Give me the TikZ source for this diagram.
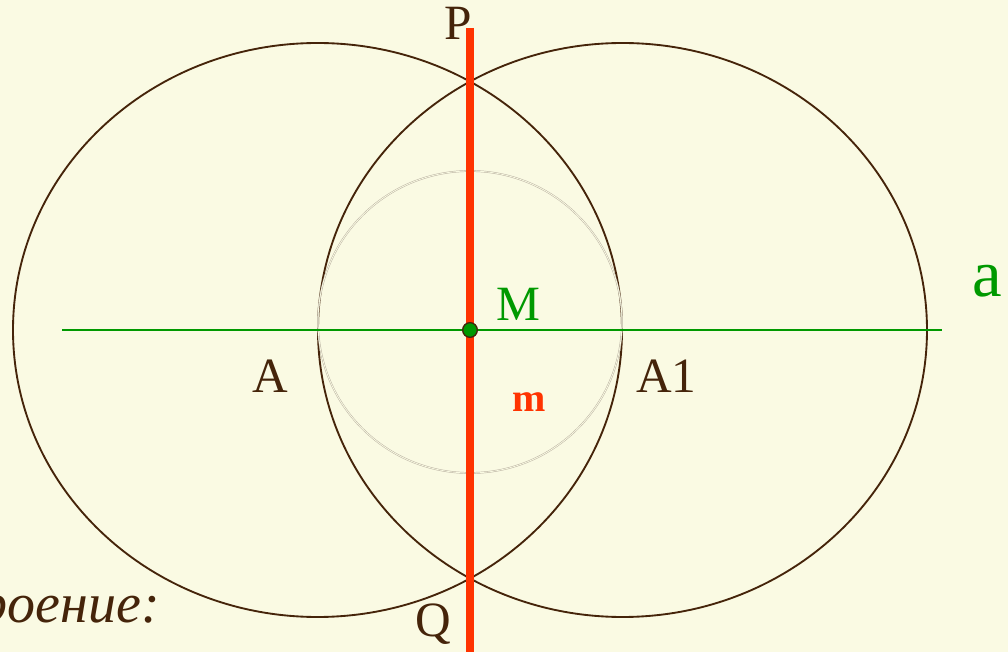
\documentclass[tikz,border=0pt]{standalone}
\usepackage{fontspec}
\setmainfont{Liberation Serif}
\definecolor{paper}{HTML}{FAFAE3}
\definecolor{brownink}{HTML}{45240A}
\definecolor{redline}{HTML}{FF3300}
\definecolor{greenline}{HTML}{009900}
\definecolor{helpgray}{HTML}{B8B0A0}

\begin{document}
\begin{tikzpicture}[
    x=0.75pt, y=-0.75pt,
    bigcirc/.style={draw=brownink, line width=1.4pt},
    helpcirc/.style={draw=helpgray, line width=0.35pt, double=paper, double distance=0.6pt},
    axis/.style={draw=greenline, line width=1.5pt},
    mline/.style={draw=redline, line width=6pt},
    pointmark/.style={circle, fill=greenline, draw=brownink, line width=1pt,
                      minimum size=11pt, inner sep=0},
    lbl/.style={text=brownink, font=\rmfamily\fontsize{37}{40}\selectfont, inner sep=0, anchor=base west}
]
    \fill[paper] (0,0) rectangle (1008,652);
    \useasboundingbox (0,0) rectangle (1008,652);

    % circles
    \draw[bigcirc] (317.5,330) ellipse [x radius=304.5, y radius=287];
    \draw[bigcirc] (622.5,330) ellipse [x radius=304.5, y radius=287];
    \draw[helpcirc] (470,322) ellipse [x radius=152, y radius=151];

    % line a and perpendicular m
    \coordinate (aL) at (62,330);
    \coordinate (aR) at (942,330);
    \coordinate (mT) at (470,28);
    \coordinate (mB) at (470,660);
    \draw[axis] (aL) -- (aR);
    \draw[mline] (mT) -- (mB);
    \node[pointmark] (M) at (470,330) {};

    % labels
    \node[lbl] (lP) at (444,40) {P};
    \node[lbl] (lQ) at (415,636) {Q};
    \node[lbl, text=greenline] (lM) at (496,321) {M};
    \node[lbl] (lA) at (252,393) {A};
    \node[lbl] (lA1) at (636,393) {A1};
    \node[lbl, text=redline, font=\rmfamily\fontsize{30}{32}\selectfont\bfseries] (lm) at (512,412) {m};
    \node[lbl, text=greenline, font=\rmfamily\fontsize{50}{52}\selectfont] (la) at (972,297) {a};
    \node[lbl, anchor=base east, font=\rmfamily\fontsize{42}{46}\selectfont\itshape] (ltext) at (160,623) {роение:};
\end{tikzpicture}
\end{document}
